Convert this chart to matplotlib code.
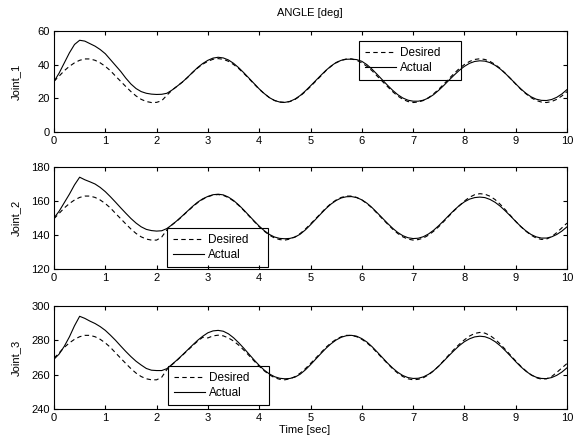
import numpy as np
import matplotlib
matplotlib.use("Agg")
import matplotlib.pyplot as plt

plt.rcParams["font.family"] = ["Liberation Sans", "DejaVu Sans"]
plt.rcParams["font.size"] = 8

# time axis, 0..10 s in 0.1 s steps
time = np.round(np.arange(0, 10.05, 0.1), 1)

joint1_desired = [
    30.1, 33.2, 36.4, 39.0, 41.1, 42.6, 43.4, 43.4, 42.6, 41.1,
    39.0, 36.4, 33.2, 30.1, 27.0, 24.0, 21.4, 19.4, 18.1, 17.5,
    17.6, 18.6, 21.8, 24.8, 27.2, 29.6, 32.3, 35.3, 38.0, 40.3,
    42.0, 43.2, 43.6, 43.2, 42.0, 40.1, 37.7, 34.8, 31.7, 28.5,
    25.4, 22.7, 20.4, 18.7, 17.8, 17.5, 18.1, 19.4, 21.4, 24.0,
    27.0, 30.1, 33.2, 36.4, 39.0, 41.1, 42.6, 43.4, 43.4, 42.6,
    41.1, 39.0, 36.4, 33.2, 30.1, 27.0, 24.0, 21.4, 19.4, 18.1,
    17.5, 17.8, 18.7, 20.4, 22.7, 25.4, 28.5, 31.7, 34.8, 37.7,
    40.1, 41.9, 43.1, 43.5, 43.1, 41.9, 40.1, 37.7, 34.8, 31.7,
    28.5, 25.4, 22.7, 20.4, 18.7, 17.8, 17.5, 18.1, 19.4, 21.4,
    24.0,
]
joint1_actual = [
    30.0, 35.0, 41.0, 47.0, 52.0, 54.5, 54.0, 52.5, 51.0, 49.0,
    46.5, 43.0, 39.5, 36.0, 32.0, 28.5, 25.8, 24.0, 23.0, 22.5,
    22.3, 22.4, 23.0, 24.9, 27.2, 29.6, 32.4, 35.4, 38.3, 40.7,
    42.6, 43.9, 44.4, 44.0, 42.8, 40.8, 38.2, 35.2, 32.0, 28.8,
    25.6, 22.8, 20.4, 18.7, 17.8, 17.6, 18.2, 19.6, 21.7, 24.4,
    27.4, 30.5, 33.6, 36.6, 39.2, 41.3, 42.6, 43.2, 43.3, 43.0,
    42.0, 40.0, 37.3, 34.2, 31.0, 27.8, 24.8, 22.2, 20.2, 18.9,
    18.3, 18.3, 18.9, 20.2, 22.2, 24.8, 27.7, 30.8, 33.8, 36.6,
    39.0, 40.8, 41.9, 42.3, 42.1, 41.2, 39.6, 37.4, 34.7, 31.7,
    28.6, 25.6, 23.0, 20.9, 19.5, 18.8, 18.7, 19.3, 20.6, 22.6,
    25.2,
]
joint2_desired = [
    149.6, 152.7, 155.9, 158.5, 160.6, 162.1, 162.9, 162.9, 162.1, 160.6,
    158.5, 155.9, 152.7, 149.6, 146.5, 143.5, 140.9, 138.9, 137.6, 137.0,
    137.0, 138.8, 143.0, 146.0, 148.3, 151.0, 153.8, 156.5, 159.0, 161.0,
    162.5, 163.5, 163.8, 163.3, 162.0, 160.0, 157.4, 154.4, 151.2, 148.0,
    144.9, 142.2, 139.9, 138.2, 137.3, 137.0, 137.6, 138.9, 140.9, 143.5,
    146.5, 149.6, 152.7, 155.9, 158.5, 160.6, 162.1, 162.9, 162.9, 162.1,
    160.6, 158.5, 155.9, 152.7, 149.6, 146.5, 143.5, 140.9, 138.9, 137.6,
    137.0, 137.3, 138.2, 139.9, 142.2, 144.9, 148.0, 151.2, 154.3, 157.2,
    160.0, 162.2, 163.7, 164.3, 164.0, 162.8, 160.8, 158.0, 154.8, 151.4,
    148.0, 144.9, 142.2, 139.9, 138.2, 137.4, 137.6, 139.0, 141.4, 144.2,
    147.0,
]
joint2_actual = [
    150.0, 154.0, 159.0, 164.0, 169.5, 174.0, 172.5, 171.3, 170.0, 168.0,
    165.5, 162.5, 159.3, 156.0, 152.8, 149.7, 147.0, 144.8, 143.3, 142.6,
    142.3, 142.5, 143.8, 146.0, 148.5, 151.2, 154.0, 156.8, 159.3, 161.3,
    162.7, 163.7, 164.0, 163.6, 162.3, 160.3, 157.7, 154.7, 151.5, 148.3,
    145.2, 142.5, 140.3, 138.8, 138.0, 137.8, 138.0, 138.8, 140.5, 143.0,
    146.0, 149.2, 152.4, 155.5, 158.2, 160.3, 161.8, 162.5, 162.6, 162.0,
    160.7, 158.7, 156.1, 153.1, 150.0, 146.9, 144.0, 141.5, 139.6, 138.4,
    137.9, 138.1, 139.0, 140.6, 142.8, 145.5, 148.5, 151.6, 154.6, 157.3,
    159.5, 161.1, 162.0, 162.3, 162.0, 160.9, 159.2, 156.9, 154.1, 151.1,
    148.0, 145.0, 142.4, 140.3, 138.9, 138.2, 138.2, 138.9, 140.3, 142.3,
    144.8,
]
joint3_desired = [
    269.6, 272.7, 275.9, 278.5, 280.6, 282.1, 282.9, 282.9, 282.1, 280.6,
    278.5, 275.9, 272.7, 269.6, 266.5, 263.5, 260.9, 258.9, 257.6, 257.0,
    257.0, 258.5, 263.0, 265.8, 268.4, 271.2, 274.0, 276.8, 279.5, 281.8,
    281.4, 282.6, 283.0, 282.6, 281.4, 279.6, 277.2, 274.3, 271.2, 268.0,
    264.9, 262.2, 259.9, 258.2, 257.3, 257.0, 257.6, 258.9, 260.9, 263.5,
    266.5, 269.6, 272.7, 275.9, 278.5, 280.6, 282.1, 282.9, 282.9, 282.1,
    280.6, 278.5, 275.9, 272.7, 269.6, 266.5, 263.5, 260.9, 258.9, 257.6,
    257.0, 257.3, 258.2, 259.9, 262.2, 265.0, 268.3, 271.6, 274.8, 277.7,
    280.3, 282.5, 284.0, 284.6, 284.2, 282.8, 280.6, 277.8, 274.6, 271.3,
    268.0, 264.9, 262.2, 259.9, 258.2, 257.4, 257.6, 258.9, 261.3, 263.9,
    266.5,
]
joint3_actual = [
    269.0, 272.0, 276.5, 282.0, 288.5, 294.0, 292.8, 291.2, 289.8, 288.0,
    285.8, 283.0, 280.0, 276.7, 273.5, 270.5, 267.8, 265.6, 263.6, 262.6,
    262.4, 262.4, 263.5, 266.0, 268.6, 271.4, 274.3, 277.2, 280.0, 282.4,
    284.4, 285.5, 285.8, 285.3, 283.8, 281.5, 278.6, 275.4, 272.0, 268.6,
    265.4, 262.6, 260.4, 258.8, 257.9, 257.6, 257.8, 258.6, 260.3, 262.8,
    265.8, 269.0, 272.2, 275.3, 278.0, 280.2, 281.8, 282.7, 282.9, 282.4,
    281.0, 279.0, 276.3, 273.2, 270.0, 266.8, 263.9, 261.4, 259.5, 258.3,
    257.8, 257.9, 258.7, 260.2, 262.3, 265.0, 268.0, 271.1, 274.1, 276.9,
    279.2, 280.9, 282.0, 282.4, 282.1, 281.0, 279.2, 276.8, 273.9, 270.8,
    267.6, 264.6, 262.0, 259.9, 258.5, 257.8, 257.7, 258.3, 259.6, 261.5,
    264.0,
]

ylabels = ["Joint_1", "Joint_2", "Joint_3"]
yticks = [[0, 20, 40, 60], [120, 140, 160, 180], [240, 260, 280, 300]]
desired = [joint1_desired, joint2_desired, joint3_desired]
actual = [joint1_actual, joint2_actual, joint3_actual]

W, H = 578, 443
fig = plt.figure(figsize=(W / 100, H / 100), dpi=100)

# axes boxes in pixels: (top, bottom)
rows = [(31, 132), (167, 269), (306, 409)]
left, right = 54, 567
# legend boxes in pixels: (x0, y_top, width)
legend_boxes = [(359, 41, 102), (167, 228, 101), (168, 366, 101)]

for i, (top, bottom) in enumerate(rows):
    ax = fig.add_axes([left / W, 1 - bottom / H, (right - left) / W, (bottom - top) / H])
    ax.plot(time, desired[i], color="black", lw=0.8, ls=(0, (4, 3)), label="Desired")
    ax.plot(time, actual[i], color="black", lw=0.8, label="Actual")
    ax.set_xlim(0, 10)
    ax.set_ylim(yticks[i][0], yticks[i][-1])
    ax.set_xticks(range(11))
    ax.set_yticks(yticks[i])
    ax.tick_params(direction="in", top=True, right=True, length=3, width=0.8,
                   labelsize=8, pad=3)
    for s in ax.spines.values():
        s.set_linewidth(0.8)
    ax.set_ylabel(ylabels[i], fontsize=8)
    ax.yaxis.set_label_coords(-0.065, 0.5)

    lx, ly, lw = legend_boxes[i]
    h = bottom - top
    anchor = ((lx - left) / (right - left), 1 - (ly - top) / h, lw / (right - left), 0)
    leg = ax.legend(loc="upper left", bbox_to_anchor=anchor, mode="expand",
                    borderaxespad=0, fontsize=8.5, handlelength=2.6,
                    handletextpad=0.4, borderpad=0.5, labelspacing=0.3,
                    fancybox=False, edgecolor="black")
    frame = leg.get_frame()
    frame.set_facecolor("none")
    frame.set_alpha(None)
    frame.set_linewidth(0.8)

fig.text(310 / W, 1 - 13 / H, "ANGLE [deg]", ha="center", va="center", fontsize=8)
fig.text(305 / W, 1 - 430 / H, "Time [sec]", ha="center", va="center", fontsize=8)

fig.savefig("out.png", dpi=100)
